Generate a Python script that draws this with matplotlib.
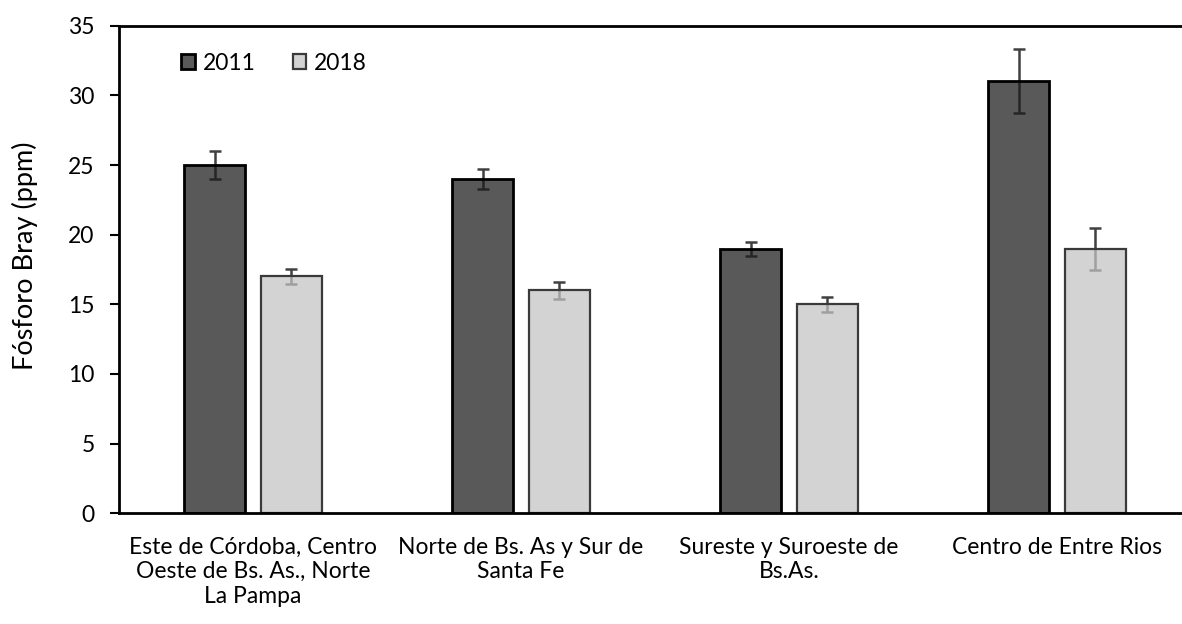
import matplotlib
matplotlib.use("Agg")
import matplotlib.pyplot as plt
import numpy as np

plt.rcParams['font.family'] = ['Lato', 'DejaVu Sans']

regiones = ["Este de Córdoba, Centro\nOeste de Bs. As., Norte\nLa Pampa",
            "Norte de Bs. As y Sur de\nSanta Fe",
            "Sureste y Suroeste de\nBs.As.",
            "Centro de Entre Rios"]
p2011 = [25.0, 24.0, 19.0, 31.0]
err2011 = [1.0, 0.75, 0.5, 2.3]
p2018 = [17.0, 16.0, 15.0, 19.0]
err2018 = [0.55, 0.6, 0.55, 1.5]
yticks = [0, 5, 10, 15, 20, 25, 30, 35]

if __name__ == "__main__":
    fs = 16.5
    fig = plt.figure(figsize=(11.82, 6.24), dpi=100)
    ax = fig.add_axes([0.1007, 0.1774, 0.907, 0.7814])

    x = np.arange(len(regiones))
    w = 0.228
    off = 0.143

    # error bars behind the (slightly transparent) bars, like the excel look
    ax.errorbar(x - off, p2011, yerr=err2011, fmt="none", ecolor="#404040",
                elinewidth=1.8, capsize=4.5, capthick=1.8, zorder=1)
    ax.errorbar(x + off, p2018, yerr=err2018, fmt="none", ecolor="#404040",
                elinewidth=1.8, capsize=4.5, capthick=1.8, zorder=1)
    ax.bar(x - off, p2011, w, color=(0.11, 0.11, 0.11, 0.73), edgecolor="#000000",
           linewidth=2.0, label="2011", zorder=2)
    ax.bar(x + off, p2018, w, color=(0.765, 0.765, 0.765, 0.73), edgecolor="#3a3a3a",
           linewidth=1.6, label="2018", zorder=2)

    ax.set_xlim(-0.5, 3.5)
    ax.set_ylim(0, 35)
    ax.set_yticks(yticks)
    ax.set_xticks(x)
    ax.set_xticklabels(regiones, fontsize=fs, linespacing=1.2)
    ax.tick_params(axis="x", length=0, pad=17)
    ax.tick_params(axis="y", length=6.5, width=1.5, pad=11, labelsize=fs)
    for s in ax.spines.values():
        s.set_linewidth(2.0)

    ax.set_ylabel("Fósforo Bray (ppm)", fontsize=19.5)
    ax.yaxis.set_label_coords(-0.076, 0.528)

    ax.legend(loc="center left", bbox_to_anchor=(0.058, 0.923), ncol=2, frameon=False,
              fontsize=fs, handlelength=0.6, handleheight=0.6, handletextpad=0.35,
              columnspacing=1.6, borderpad=0, borderaxespad=0)

    fig.savefig("out.png", dpi=100)
